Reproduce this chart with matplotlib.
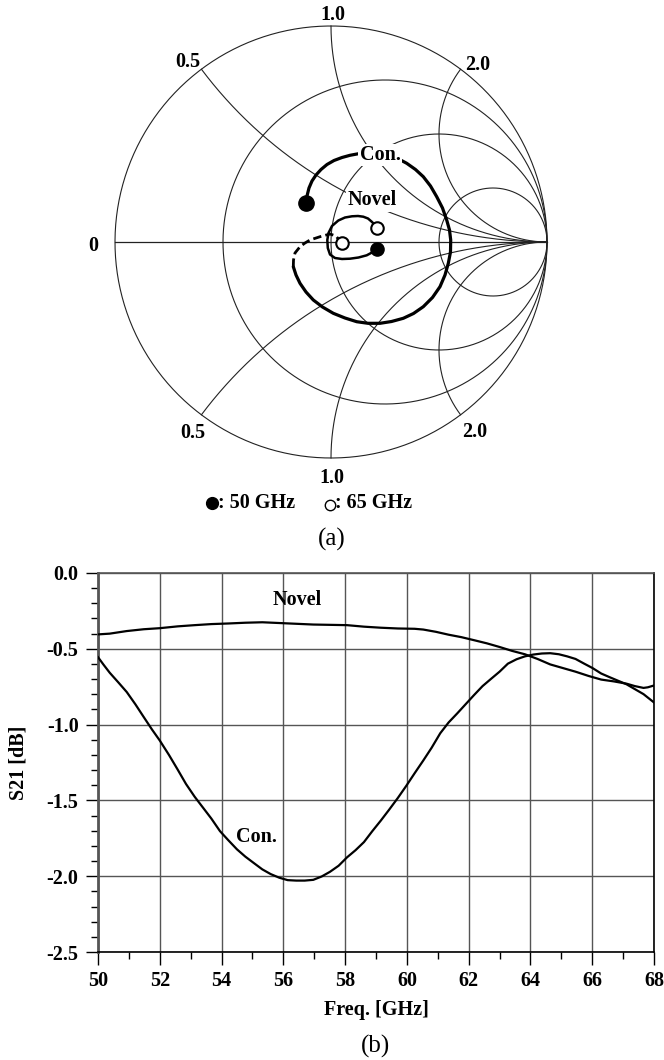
"""
Smith chart of S11 (top) and S21 vs frequency (bottom)
for the conventional and the novel transition.
"""

# ── 1. IMPORTS ──────────────────────────────────────────────────────────────
import numpy as np
import matplotlib
matplotlib.use("Agg")
import matplotlib.pyplot as plt
from matplotlib.ticker import MultipleLocator

plt.rcParams["font.family"] = ["Liberation Serif", "DejaVu Serif"]
plt.rcParams["font.weight"] = "bold"
plt.rcParams["axes.labelweight"] = "bold"

# ── 2. DATA ─────────────────────────────────────────────────────────────────
# Smith chart traces (reflection coefficient, real / imag), 50 -> 65 GHz
con_re = [-0.1157, -0.1111, -0.1019, -0.0880, -0.0694, -0.0463, -0.0185,
          0.0139, 0.0509, 0.0880, 0.1250, 0.1806, 0.2361, 0.2917, 0.3505,
          0.3912, 0.4273, 0.4606, 0.4894, 0.5162, 0.5356, 0.5486, 0.5542,
          0.5532, 0.5431, 0.5278, 0.5046, 0.4699, 0.4273, 0.3819, 0.3347,
          0.2801, 0.2269, 0.1713, 0.1190, 0.0648, 0.0106, -0.0394, -0.0819,
          -0.1157, -0.1435, -0.1620, -0.1745]
con_im = [0.1806, 0.2130, 0.2500, 0.2824, 0.3102, 0.3356, 0.3588, 0.3773,
          0.3912, 0.4014, 0.4083, 0.4120, 0.4097, 0.3958, 0.3644, 0.3356,
          0.3023, 0.2593, 0.2097, 0.1574, 0.1019, 0.0556, 0.0093, -0.0463,
          -0.0986, -0.1528, -0.2069, -0.2569, -0.2995, -0.3310, -0.3532,
          -0.3681, -0.3764, -0.3764, -0.3690, -0.3519, -0.3301, -0.3009,
          -0.2685, -0.2315, -0.1912, -0.1528, -0.1144]
con_tail_re = [-0.1745, -0.1736, -0.1667, -0.1435, -0.1204, -0.0972, -0.0509,
               -0.0046, 0.0231, 0.0495]
con_tail_im = [-0.1144, -0.0833, -0.0509, -0.0218, -0.0046, 0.0093, 0.0245,
               0.0370, 0.0278, -0.0060]

nov_re = [0.2116, 0.1898, 0.1653, 0.1273, 0.0880, 0.0509, 0.0185, -0.0046,
          -0.0148, -0.0171, -0.0116, 0.0046, 0.0338, 0.0648, 0.0972, 0.1250,
          0.1495, 0.1713, 0.1884, 0.2014, 0.2116]
nov_im = [-0.0338, -0.0486, -0.0616, -0.0718, -0.0773, -0.0787, -0.0741,
          -0.0579, -0.0278, 0.0093, 0.0417, 0.0741, 0.0995, 0.1134, 0.1190,
          0.1204, 0.1171, 0.1088, 0.0940, 0.0810, 0.0648]

# grid of the Smith chart
RES_CIRCLES = [0.0, 1 / 3, 1.0, 3.0]
REACT_ARCS = [0.5, 1.0, 2.0, -0.5, -1.0, -2.0]
SMITH_LABELS = [("1.0", 0.009, 1.051), ("0.5", -0.662, 0.833), ("2.0", 0.681, 0.819),
                ("0", -1.10, -0.0185), ("0.5", -0.639, -0.884), ("2.0", 0.667, -0.880),
                ("1.0", 0.005, -1.093)]

# S21 [dB] vs frequency [GHz]
con_freq = [50.00, 50.18, 50.38, 50.66, 50.93, 51.21, 51.48, 51.75, 52.00,
            52.30, 52.58, 52.85, 53.13, 53.40, 53.67, 53.95, 54.22, 54.50,
            54.77, 55.05, 55.32, 55.59, 55.87, 56.14, 56.42, 56.69, 56.97,
            57.24, 57.51, 57.79, 58.06, 58.34, 58.61, 58.88, 59.16, 59.43,
            59.71, 59.98, 60.25, 60.53, 60.80, 61.08, 61.35, 61.63, 61.90,
            62.17, 62.45, 62.72, 63.00, 63.27, 63.55, 63.82, 64.09, 64.37,
            64.64, 64.92, 65.19, 65.46, 65.74, 66.01, 66.29, 66.56, 66.84,
            67.11, 67.38, 67.66, 68.00]
con_s21 = [-0.555, -0.605, -0.658, -0.722, -0.785, -0.866, -0.950, -1.033,
           -1.105, -1.201, -1.297, -1.392, -1.476, -1.548, -1.620, -1.703,
           -1.763, -1.823, -1.871, -1.914, -1.955, -1.986, -2.010, -2.026,
           -2.029, -2.029, -2.024, -2.002, -1.971, -1.931, -1.876, -1.828,
           -1.775, -1.703, -1.632, -1.560, -1.483, -1.404, -1.321, -1.237,
           -1.153, -1.057, -0.986, -0.926, -0.866, -0.806, -0.746, -0.699,
           -0.651, -0.598, -0.569, -0.550, -0.538, -0.531, -0.529, -0.536,
           -0.550, -0.567, -0.598, -0.627, -0.663, -0.687, -0.711, -0.734,
           -0.766, -0.799, -0.854]

nov_freq = [50.00, 50.38, 50.93, 51.48, 52.00, 52.58, 53.13, 53.67, 54.22,
            54.77, 55.32, 55.87, 56.42, 56.97, 57.51, 58.06, 58.61, 59.16,
            59.71, 60.25, 60.53, 60.94, 61.35, 61.76, 62.17, 62.59, 63.00,
            63.41, 63.82, 64.23, 64.64, 65.05, 65.46, 65.88, 66.29, 66.70,
            67.11, 67.38, 67.66, 67.80, 68.00]
nov_s21 = [-0.405, -0.400, -0.383, -0.371, -0.364, -0.352, -0.344, -0.337,
           -0.333, -0.328, -0.325, -0.330, -0.335, -0.340, -0.342, -0.344,
           -0.354, -0.361, -0.366, -0.368, -0.373, -0.388, -0.407, -0.423,
           -0.443, -0.464, -0.488, -0.514, -0.536, -0.567, -0.603, -0.627,
           -0.651, -0.679, -0.703, -0.715, -0.730, -0.746, -0.758, -0.754,
           -0.742]

FS = 14.5
W, H = 664, 1060
fig = plt.figure(figsize=(W / 100, H / 100), dpi=100)

# ── 3. SMITH CHART (a) ──────────────────────────────────────────────────────
cx, cy, R, lim = 331, 242, 216, 1.15
ax1 = fig.add_axes([(cx - R * lim) / W, 1 - (cy + R * lim) / H,
                    2 * R * lim / W, 2 * R * lim / H])
ax1.set_xlim(-lim, lim)
ax1.set_ylim(-lim, lim)
ax1.set_aspect("equal")
ax1.axis("off")

t = np.linspace(0, 2 * np.pi, 500)
for r in RES_CIRCLES:
    ax1.plot(r / (1 + r) + np.cos(t) / (1 + r), np.sin(t) / (1 + r),
             color="#222", lw=0.8, zorder=1)
rr = np.concatenate([[0], np.logspace(-3, 4, 600)])
for x in REACT_ARCS:
    g = (rr + 1j * x - 1) / (rr + 1j * x + 1)
    ax1.plot(g.real, g.imag, color="#222", lw=0.8, zorder=1)
ax1.plot([-1, 1], [0, 0], color="#222", lw=0.9, zorder=1)

for txt, gx, gy in SMITH_LABELS:
    ax1.text(gx, gy, txt, fontsize=FS, ha="center", va="center")

ax1.plot(con_re, con_im, color="black", lw=2.3, zorder=3, solid_capstyle="round")
ax1.plot(con_tail_re, con_tail_im, color="black", lw=2.0, ls=(0, (3, 1.5)), zorder=3)
ax1.plot(nov_re, nov_im, color="black", lw=1.8, zorder=3)

# 50 GHz start (filled) / 65 GHz end (open)
ax1.plot(con_re[0], con_im[0], "o", color="black", ms=11, zorder=5)
ax1.plot(nov_re[0], nov_im[0], "o", color="black", ms=9.5, zorder=5)
ax1.plot(con_tail_re[-1], con_tail_im[-1], "o", mfc="white", mec="black",
         mew=1.5, ms=9, zorder=5)
ax1.plot(nov_re[-1], nov_im[-1], "o", mfc="white", mec="black",
         mew=1.5, ms=9, zorder=5)

box = dict(fc="white", ec="none", pad=1.0)
ax1.text(0.228, 0.403, "Con.", fontsize=FS, ha="center", va="center", bbox=box, zorder=4)
ax1.text(0.192, 0.194, "Novel", fontsize=FS, ha="center", va="center", bbox=box, zorder=4)

# marker legend under the chart
ax1.plot(-0.551, -1.210, "o", color="black", ms=8.5, clip_on=False)
ax1.text(-0.522, -1.207, ": 50 GHz", fontsize=FS, ha="left", va="center")
ax1.plot(-0.005, -1.218, "o", mfc="white", mec="black", mew=1.0, ms=7.5, clip_on=False)
ax1.text(0.019, -1.207, ": 65 GHz", fontsize=FS, ha="left", va="center")

fig.text(331.7 / W, 1 - 539 / H, "(a)", fontsize=18, weight="normal",
         ha="center", va="center")

# ── 4. S21 PLOT (b) ─────────────────────────────────────────────────────────
ax2 = fig.add_axes([98 / W, 1 - 952 / H, 556 / W, 379 / H])
ax2.plot(nov_freq, nov_s21, color="black", lw=1.6, zorder=3)
ax2.plot(con_freq, con_s21, color="black", lw=1.6, zorder=3)
ax2.text(56.46, -0.177, "Novel", fontsize=FS, ha="center", va="center")
ax2.text(55.12, -1.74, "Con.", fontsize=FS, ha="center", va="center")

ax2.set_xlim(50, 68)
ax2.set_ylim(-2.5, 0.0)
ax2.xaxis.set_major_locator(MultipleLocator(2))
ax2.xaxis.set_minor_locator(MultipleLocator(1))
ax2.yaxis.set_major_locator(MultipleLocator(0.5))
ax2.yaxis.set_minor_locator(MultipleLocator(0.1))
ax2.yaxis.set_major_formatter(plt.FuncFormatter(lambda v, _: f"{v:.1f}"))
ax2.grid(True, which="major", color="#555", lw=1.0)
ax2.tick_params(which="major", direction="out", length=9, width=1.0,
                labelsize=FS, pad=5)
ax2.tick_params(which="minor", direction="out", length=5, width=1.0)
for side in ["left", "top"]:
    ax2.spines[side].set_color("#555")
ax2.spines["left"].set_linewidth(2.0)
ax2.spines["top"].set_linewidth(1.2)
ax2.spines["right"].set_linewidth(1.2)
ax2.spines["bottom"].set_linewidth(1.2)
ax2.set_xlabel("Freq. [GHz]", fontsize=FS, fontweight="bold", labelpad=6)
ax2.set_ylabel("S21 [dB]", fontsize=FS, fontweight="bold", labelpad=13)

fig.text(375 / W, 1 - 1046.7 / H, "(b)", fontsize=18, weight="normal",
         ha="center", va="center")

fig.savefig("out.png", dpi=100)
